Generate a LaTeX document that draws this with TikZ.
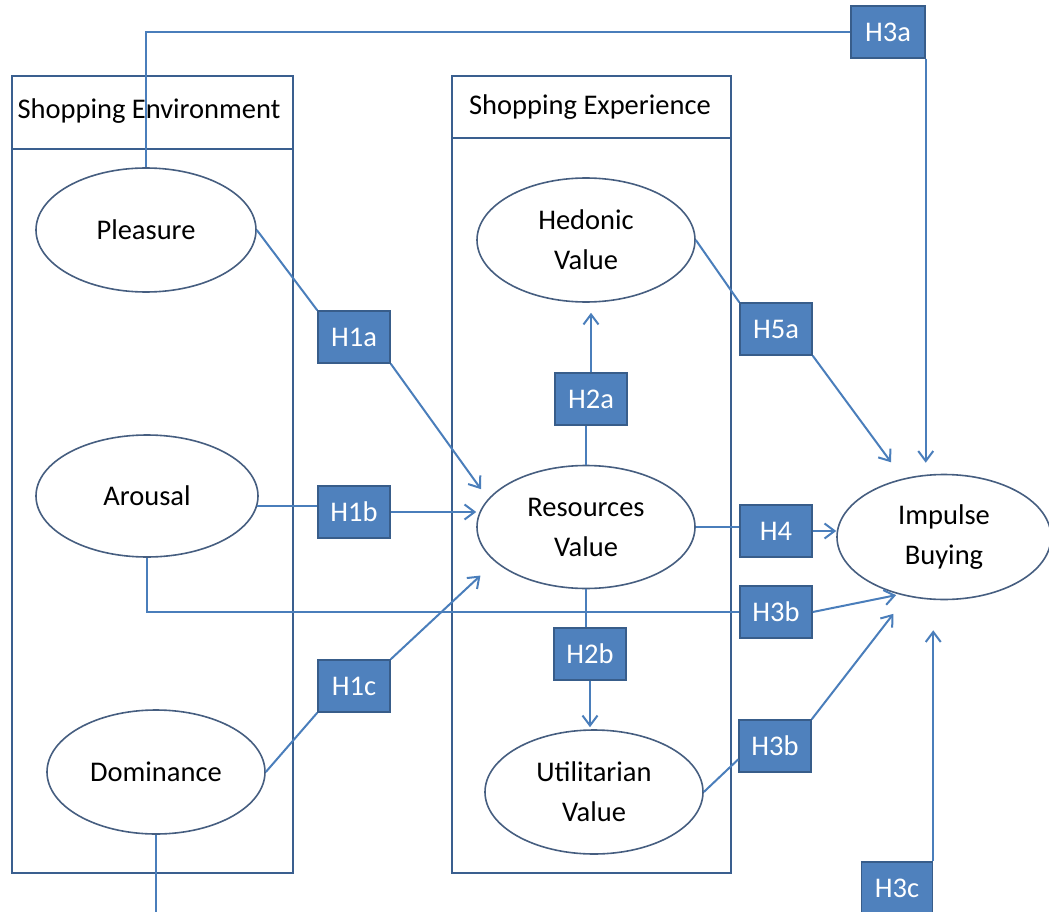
\documentclass[tikz,border=0pt]{standalone}
\usepackage{fontspec}
\setmainfont{Carlito}
\usetikzlibrary{shapes.geometric,arrows.meta,calc}
\definecolor{linkblue}{HTML}{4A7EBB}
\definecolor{hypfill}{HTML}{4F81BD}
\definecolor{hypframe}{HTML}{385D8A}
\definecolor{panelframe}{HTML}{3A5F8F}
\definecolor{ovalframe}{HTML}{465E80}

\begin{document}
\begin{tikzpicture}[
  x=1pt, y=-1pt,
  font=\fontsize{28.5}{40}\selectfont,
  construct/.style={ellipse, draw=ovalframe, line width=1.6pt, fill=white, minimum width=218pt, minimum height=124pt, inner sep=0pt, align=center},
  hyp/.style={rectangle, draw=hypframe, line width=1.5pt, fill=hypfill, text=white, minimum width=72pt, minimum height=52pt, inner sep=0pt},
  panel/.style={rectangle, draw=panelframe, line width=2pt, minimum height=797pt, inner sep=0pt},
  link/.style={draw=linkblue, line width=2pt},
  arr/.style={link, -{Straight Barb[length=10pt,width=15pt]}}
]
\useasboundingbox (0,0) rectangle (1049,912);

% Two panels with their header rows
\node[panel, minimum width=281pt] (envpanel) at (152.5,474.5) {};
\node[panel, minimum width=279pt] (exppanel) at (591.5,474.5) {};
\draw[panelframe, line width=2pt] ($(envpanel.north west)+(0,74)$) -- ($(envpanel.north east)+(0,74)$);
\draw[panelframe, line width=2pt] ($(exppanel.north west)+(0,63)$) -- ($(exppanel.north east)+(0,63)$);
\node (envtitle) at (149,111) {Shopping Environment};
\node (exptitle) at (590,107) {Shopping Experience};

% Constructs
\node[construct, minimum width=220pt] (pleasure) at (146,230) {Pleasure};
\node[construct, minimum width=222pt, minimum height=122pt] (arousal) at (147,496) {Arousal};
\node[construct] (dominance) at (156,772) {Dominance};
\node[construct] (hedonic) at (586,240) {Hedonic\\Value};
\node[construct, minimum height=123pt] (resources) at (586,527) {Resources\\Value};
\node[construct] (utilitarian) at (594,792) {Utilitarian\\Value};
\node[construct, minimum width=214pt, minimum height=125pt] (impulse) at (944,537) {Impulse\\Buying};

% Hypothesis labels
\node[hyp, minimum width=74pt] (h3a) at (888,32) {H3a};
\node[hyp] (h1a) at (354,337) {H1a};
\node[hyp] (h1b) at (354,512) {H1b};
\node[hyp] (h1c) at (354,686) {H1c};
\node[hyp] (h2a) at (591,399) {H2a};
\node[hyp] (h2b) at (590,654) {H2b};
\node[hyp] (h5a) at (776,329) {H5a};
\node[hyp] (h4) at (776,531) {H4};
\node[hyp] (h3bt) at (776,612) {H3b};
\node[hyp] (h3bl) at (775,746) {H3b};
\node[hyp, minimum width=71pt] (h3c) at (897,888) {H3c};
\coordinate (domend) at (156,915);

% Environment -> resources value
\draw[link] (pleasure.east) -- (h1a.north west);
\draw[arr, shorten >=12pt] (h1a.south east) -- (resources.164);
\draw[link] (arousal.-5) -- (arousal.-5 -| h1b.west);
\draw[arr] (h1b.east) -- (h1b.east -| resources.west);
\draw[link] (dominance.east) -- (h1c.south west);
\draw[arr, shorten >=20pt] (h1c.north east) -- (resources.201);

% Resources value -> hedonic / utilitarian
\draw[link] (resources.north) -- (resources.north |- h2a.south);
\draw[arr, shorten >=10pt] (h2a.north) -- (h2a.north |- hedonic.south);
\draw[link] (resources.south) -- (resources.south |- h2b.north);
\draw[arr, shorten >=2pt] (h2b.south) -- (h2b.south |- utilitarian.north);

% Paths into impulse buying
\draw[link] (pleasure.north) |- (h3a.west);
\draw[arr, shorten >=11pt] (h3a.south east) -- (h3a.south east |- impulse.north);
\draw[link] (hedonic.east) -- (h5a.north west);
\draw[arr, shorten >=20pt] (h5a.south east) -- (impulse.125);
\draw[link] (resources.east) -- (resources.east -| h4.west);
\draw[arr] (h4.east) -- (h4.east -| impulse.west);
\draw[link] (arousal.south) |- (h3bt.west);
\draw[arr, shorten >=3pt] (h3bt.east) -- (impulse.232);
\draw[link] (utilitarian.east) -- (h3bl.200);
\draw[arr, shorten >=22pt] (h3bl.north east) -- (impulse.238);
\draw[arr, shorten >=30pt] (h3c.north east) -- (h3c.north east |- impulse.south);
\draw[link] (dominance.south) -- (domend);
\end{tikzpicture}
\end{document}
